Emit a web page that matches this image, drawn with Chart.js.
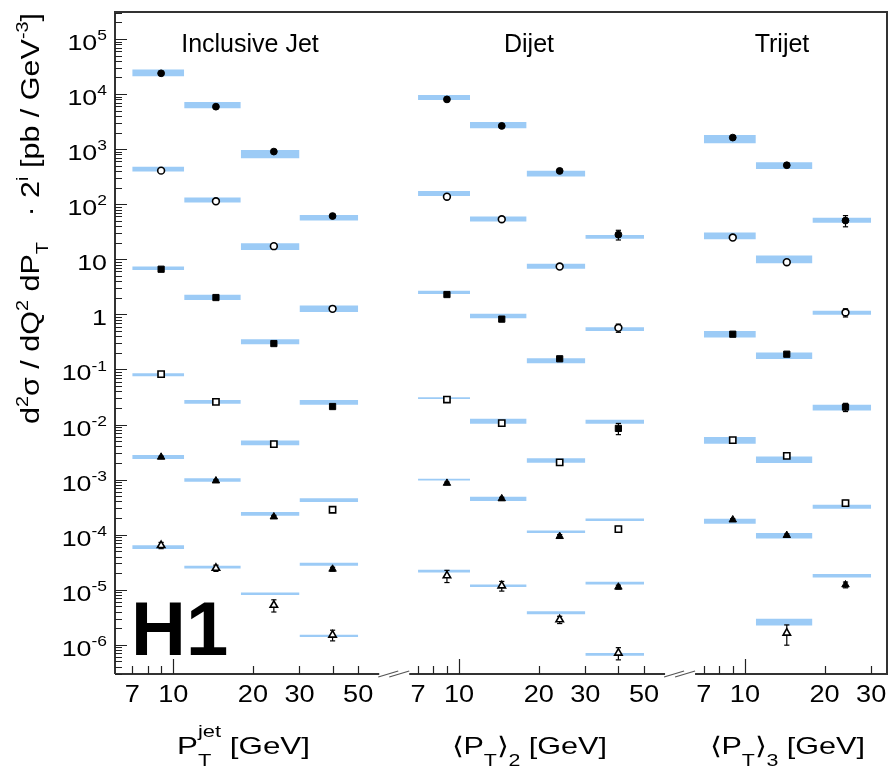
<!DOCTYPE html>
<html lang="en">
<head>
<meta charset="UTF-8">
<title>H1 jet cross sections</title>
<script src="https://cdn.jsdelivr.net/npm/chart.js@4.4.0/dist/chart.umd.min.js"></script>
<style>
  body { margin: 0; background: #fff; }
  canvas { display: block; }
</style>
</head>
<body>
<canvas id="chart" width="893" height="769"></canvas>
<script>
// ---- data (pb / GeV^3, already scaled by 2^i), rows = Q2 bins / marker types ----
const panelTitles = ['Inclusive Jet', 'Dijet', 'Trijet'];

const incBinEdges = [7, 11, 18, 30, 50];
const incCentres = [9, 14.5, 24, 40];
const incValues = [
  [2.38e4, 5.9e3, 902, 61],
  [407, 113, 17.3, 1.26],
  [6.6, 2.02, 0.295, 0.0212],
  [0.082, 0.0258, 0.0044, 2.83e-4],
  [2.56e-3, 9.5e-4, 2.11e-4, 2.37e-5],
  [6.4e-5, 2.47e-5, 5.25e-6, 1.51e-6]
];
const incRelErr = [
  [0.03, 0.03, 0.04, 0.08],
  [0.03, 0.03, 0.04, 0.06],
  [0.03, 0.03, 0.04, 0.08],
  [0.03, 0.04, 0.05, 0.08],
  [0.04, 0.05, 0.06, 0.08],
  [0.13, 0.13, 0.25, 0.22]
];
const incNloHi = [
  [2.8e4, 7.2e3, 966, 64],
  [481, 132, 19.6, 1.45],
  [7.4, 2.26, 0.355, 0.028],
  [0.085, 0.028, 0.0051, 4.6e-4],
  [2.78e-3, 1.06e-3, 2.57e-4, 3.1e-5],
  [6.4e-5, 2.72e-5, 8.95e-6, 1.52e-6]
];
const incNloLo = [
  [2.1e4, 5.5e3, 684, 50.5],
  [391, 107, 14.8, 1.10],
  [6.4, 1.83, 0.288, 0.0228],
  [0.075, 0.0238, 0.0042, 3.9e-4],
  [2.36e-3, 9.1e-4, 2.2e-4, 2.72e-5],
  [5.5e-5, 2.44e-5, 8.0e-6, 1.38e-6]
];

const diBinEdges = [7, 11, 18, 30, 50];
const diCentres = [9, 14.5, 24, 40];
const diValues = [
  [8.0e3, 2.64e3, 402, 28],
  [137, 53.3, 7.38, 0.569],
  [2.29, 0.819, 0.156, 8.5e-3],
  [0.0284, 0.0106, 2.05e-3, 1.26e-4],
  [8.6e-4, 4.5e-4, 9.3e-5, 1.12e-5],
  [1.8e-5, 1.18e-5, 2.86e-6, 7.1e-7]
];
const diRelErr = [
  [0.03, 0.03, 0.05, 0.2],
  [0.03, 0.04, 0.05, 0.17],
  [0.03, 0.04, 0.05, 0.23],
  [0.04, 0.05, 0.06, 0.12],
  [0.05, 0.06, 0.08, 0.08],
  [0.25, 0.2, 0.15, 0.25]
];
const diNloHi = [
  [9.6e3, 3.1e3, 407, 27.7],
  [174, 59.6, 8.3, 0.586],
  [2.67, 1.03, 0.16, 0.0122],
  [0.0314, 0.0127, 2.45e-3, 1.97e-4],
  [1.03e-3, 4.9e-4, 1.19e-4, 1.40e-5],
  [2.3e-5, 1.25e-5, 4.05e-6, 7.1e-7]
];
const diNloLo = [
  [7.8e3, 2.4e3, 317, 23.5],
  [141, 48.3, 6.7, 0.50],
  [2.33, 0.853, 0.13, 0.0103],
  [0.0289, 0.0103, 2.02e-3, 1.77e-4],
  [9.6e-4, 4.1e-4, 1.07e-4, 1.25e-5],
  [2.06e-5, 1.12e-5, 3.57e-6, 6.3e-7]
];

const triBinEdges = [7, 11, 18, 30];
const triCentres = [9, 14.4, 24];
const triValues = [
  [1.62e3, 510, 50.5],
  [24.8, 8.85, 1.08],
  [0.436, 0.189, 0.0207],
  [5.2e-3, 2.7e-3, 3.74e-4],
  [1.86e-4, 9.7e-5, 1.23e-5],
  [null, 1.64e-6, null]
];
const triRelErr = [
  [0.03, 0.04, 0.23],
  [0.04, 0.05, 0.17],
  [0.04, 0.05, 0.17],
  [0.05, 0.06, 0.12],
  [0.05, 0.06, 0.12],
  [null, 0.4, null]
];
const triNloHi = [
  [1.81e3, 578, 57],
  [30.5, 11.7, 1.16],
  [0.50, 0.203, 0.0228],
  [5.9e-3, 2.63e-3, 3.5e-4],
  [1.94e-4, 1.07e-4, 1.92e-5],
  [null, 2.98e-6, null]
];
const triNloLo = [
  [1.28e3, 437, 46],
  [23.2, 8.5, 0.98],
  [0.38, 0.154, 0.018],
  [4.47e-3, 1.99e-3, 2.95e-4],
  [1.58e-4, 8.5e-5, 1.67e-5],
  [null, 2.25e-6, null]
];

// x tick marks per panel (GeV)
const xTickValues = [[7, 8, 9, 10, 20, 30, 40, 50], [7, 8, 9, 10, 20, 30, 40, 50], [7, 8, 9, 10, 20, 30]];
const xTickLabels = [[7, 10, 20, 30, 50], [7, 10, 20, 30, 50], [7, 10, 20, 30]];
const yDecades = [-6, -5, -4, -3, -2, -1, 0, 1, 2, 3, 4, 5];

// ---- styling ----
const bandColour = '#9ccbf6';
const markerStyles = ['circle', 'circle', 'rect', 'rect', 'triangle', 'triangle'];
const markerFilled = [true, false, true, false, true, false];
const markerRadius = { circle: 3.4, rect: 4.4, triangle: 4.3 };
const FONT = '"Liberation Sans", Arial, Helvetica, sans-serif';

// the three log axes sit side by side on one shared axis of log10(pT) + shift
const panelShift = [0, 1.08, 2.16];
function toAxis(panel, pt) { return Math.log10(pt) + panelShift[panel]; }

const panels = [
  { edges: incBinEdges, centres: incCentres, values: incValues, err: incRelErr, hi: incNloHi, lo: incNloLo },
  { edges: diBinEdges, centres: diCentres, values: diValues, err: diRelErr, hi: diNloHi, lo: diNloLo },
  { edges: triBinEdges, centres: triCentres, values: triValues, err: triRelErr, hi: triNloHi, lo: triNloLo }
];

const datasets = [];
panels.forEach((P, p) => {
  P.values.forEach((row, s) => {
    row.forEach((v, b) => {
      if (P.hi[s][b] != null) {
        const x1 = toAxis(p, P.edges[b]), x2 = toAxis(p, P.edges[b + 1]);
        datasets.push({
          type: 'line', order: 3, fill: false, pointRadius: 0,
          borderColor: 'rgba(0,0,0,0)', borderWidth: 0,
          data: [{ x: x1, y: P.hi[s][b] }, { x: x2, y: P.hi[s][b] }]
        });
        datasets.push({
          type: 'line', order: 3, fill: '-1', pointRadius: 0,
          borderColor: 'rgba(0,0,0,0)', borderWidth: 0, backgroundColor: bandColour,
          data: [{ x: x1, y: P.lo[s][b] }, { x: x2, y: P.lo[s][b] }]
        });
      }
      if (v != null && P.err[s][b] != null) {
        const x = toAxis(p, P.centres[b]);
        datasets.push({
          type: 'line', order: 2, fill: false,
          borderColor: '#000', borderWidth: 1.2,
          pointStyle: 'line', pointRadius: 2.6, pointBorderWidth: 1.2, pointBorderColor: '#000',
          data: [{ x: x, y: v * (1 - P.err[s][b]) }, { x: x, y: v * (1 + P.err[s][b]) }]
        });
      }
    });
    const style = markerStyles[s];
    datasets.push({
      type: 'line', order: 1, showLine: false,
      pointStyle: style, pointRadius: markerRadius[style],
      pointBackgroundColor: markerFilled[s] ? '#000' : '#fff',
      pointBorderColor: '#000', pointBorderWidth: markerFilled[s] ? 1 : 1.6,
      data: row.map((v, b) => v == null ? null : { x: toAxis(p, P.centres[b]), y: v }).filter(d => d)
    });
  });
});

// ---- text helpers ----
function richWidth(ctx, parts, size, ratio) {
  let w = 0, held = 0;
  for (const part of parts) {
    const k = part.k || 'n';
    ctx.font = (k === 'n' ? size : size * ratio) + 'px ' + FONT;
    const tw = ctx.measureText(part.t).width;
    if (k === 'hold') { held = tw; continue; }
    w += Math.max(tw, held); held = 0;
  }
  return w;
}
function drawRich(ctx, parts, x, y, size, sx, o) {
  ctx.save();
  ctx.translate(x, y);
  ctx.scale(sx, 1);
  ctx.textAlign = 'left';
  ctx.textBaseline = 'alphabetic';
  let cx = 0, held = 0;
  for (const part of parts) {
    const k = part.k || 'n';
    ctx.font = (k === 'n' ? size : size * o.ratio) + 'px ' + FONT;
    let dy = 0;
    if (k === 'sup') dy = -size * o.up;
    if (k === 'sub' || k === 'hold') dy = size * o.down;
    ctx.fillText(part.t, cx, dy);
    const tw = ctx.measureText(part.t).width;
    if (k === 'hold') { held = tw; continue; }
    cx += Math.max(tw, held); held = 0;
  }
  ctx.restore();
}

const axesPlugin = {
  id: 'h1axes',
  afterDraw(chart) {
    const ctx = chart.ctx, a = chart.chartArea;
    const xs = chart.scales.x, ys = chart.scales.y;
    ctx.save();
    ctx.fillStyle = '#000';

    // frame with broken bottom axis
    const breaks = [1, 2].map(p => xs.getPixelForValue(toAxis(p, 7) - 0.09));
    ctx.strokeStyle = '#333';
    ctx.lineWidth = 2;
    ctx.beginPath();
    ctx.moveTo(a.left, a.bottom); ctx.lineTo(a.left, a.top);
    ctx.lineTo(a.right, a.top); ctx.lineTo(a.right, a.bottom);
    ctx.lineTo(breaks[1] + 15, a.bottom);
    ctx.moveTo(breaks[1] - 15, a.bottom); ctx.lineTo(breaks[0] + 15, a.bottom);
    ctx.moveTo(breaks[0] - 15, a.bottom); ctx.lineTo(a.left, a.bottom);
    ctx.stroke();
    ctx.strokeStyle = '#555';
    ctx.lineWidth = 1.3;
    breaks.forEach(bx => {
      ctx.beginPath();
      ctx.moveTo(bx - 16, a.bottom + 3); ctx.lineTo(bx + 4, a.bottom - 3);
      ctx.moveTo(bx - 5, a.bottom + 3); ctx.lineTo(bx + 15, a.bottom - 3);
      ctx.stroke();
    });

    // y ticks, drawn inward
    ctx.strokeStyle = '#222';
    ctx.lineWidth = 1.2;
    ctx.beginPath();
    for (let d = -7; d <= 5; d++) {
      for (let m = 1; m <= 9; m++) {
        const v = m * Math.pow(10, d);
        if (v < ys.min || v > ys.max) continue;
        const y = Math.round(ys.getPixelForValue(v)) + 0.5;
        ctx.moveTo(a.left, y); ctx.lineTo(a.left + (m === 1 ? 12 : 7), y);
      }
    }
    // x ticks, drawn inward
    xTickValues.forEach((ticks, p) => {
      ticks.forEach(t => {
        const x = Math.round(xs.getPixelForValue(toAxis(p, t))) + 0.5;
        ctx.moveTo(x, a.bottom); ctx.lineTo(x, a.bottom - (t === 10 ? 15 : 8));
      });
    });
    ctx.stroke();

    // y tick labels
    const yOpt = { ratio: 0.65, up: 0.45, down: 0.3 };
    yDecades.forEach(d => {
      const parts = d === 0 ? [{ t: '1' }] : d === 1 ? [{ t: '10' }] : [{ t: '10' }, { t: String(d), k: 'sup' }];
      const sx = 1.22;
      const w = richWidth(ctx, parts, 22, yOpt.ratio) * sx;
      const y = ys.getPixelForValue(Math.pow(10, d));
      drawRich(ctx, parts, a.left - 8 - w, y + 11, 22, sx, yOpt);
    });

    // x tick labels
    ctx.font = '23px ' + FONT;
    xTickLabels.forEach((labels, p) => {
      labels.forEach(t => {
        const x = xs.getPixelForValue(toAxis(p, t));
        const w = ctx.measureText(String(t)).width * 1.18;
        drawRich(ctx, [{ t: String(t) }], x - w / 2, 702, 23, 1.18, yOpt);
      });
    });

    // panel titles
    ctx.font = '25px ' + FONT;
    ctx.textAlign = 'center';
    ctx.textBaseline = 'alphabetic';
    ctx.fillText(panelTitles[0], 250, 52);
    ctx.fillText(panelTitles[1], 529, 52);
    ctx.fillText(panelTitles[2], 782, 52);

    // x axis titles
    const xOpt = { ratio: 0.7, up: 0.72, down: 0.5 };
    const xt1 = [{ t: 'P' }, { t: 'T', k: 'hold' }, { t: 'jet', k: 'sup' }, { t: ' [GeV]' }];
    const xt2 = [{ t: '\u27E8P' }, { t: 'T', k: 'sub' }, { t: '\u27E9' }, { t: '2', k: 'sub' }, { t: ' [GeV]' }];
    const xt3 = [{ t: '\u27E8P' }, { t: 'T', k: 'sub' }, { t: '\u27E9' }, { t: '3', k: 'sub' }, { t: ' [GeV]' }];
    [[xt1, 177, 133], [xt2, 452, 155], [xt3, 710, 155]].forEach(([parts, x0, wTarget]) => {
      const w = richWidth(ctx, parts, 24, xOpt.ratio);
      drawRich(ctx, parts, x0, 754, 24, wTarget / w, xOpt);
    });

    // y axis title, reading upwards
    const yTitle = [
      { t: 'd' }, { t: '2', k: 'sup' }, { t: '\u03C3 / dQ' }, { t: '2', k: 'sup' },
      { t: ' dP' }, { t: 'T', k: 'sub' }, { t: '   \u00B7 2' }, { t: 'i', k: 'sup' },
      { t: ' [pb / GeV' }, { t: '-3', k: 'sup' }, { t: ']' }
    ];
    const tOpt = { ratio: 0.65, up: 0.45, down: 0.35 };
    const tw = richWidth(ctx, yTitle, 25, tOpt.ratio);
    ctx.save();
    ctx.translate(39, 424);
    ctx.rotate(-Math.PI / 2);
    drawRich(ctx, yTitle, 0, 0, 25, 411 / tw, tOpt);
    ctx.restore();

    // experiment logo
    ctx.font = 'bold 76px ' + FONT;
    ctx.textAlign = 'left';
    ctx.fillText('H1', 131, 655);
    ctx.restore();
  }
};

new Chart(document.getElementById('chart'), {
  type: 'line',
  data: { datasets: datasets },
  options: {
    responsive: false,
    animation: false,
    events: [],
    layout: { padding: { left: 115, top: 12, right: 2, bottom: 95 } },
    plugins: { legend: { display: false }, tooltip: { enabled: false } },
    elements: { line: { tension: 0 } },
    scales: {
      x: { type: 'linear', min: 0.78, max: 3.697, display: false },
      y: { type: 'logarithmic', min: 2.95e-7, max: 3.09e5, display: false }
    }
  },
  plugins: [axesPlugin]
});
</script>
</body>
</html>
